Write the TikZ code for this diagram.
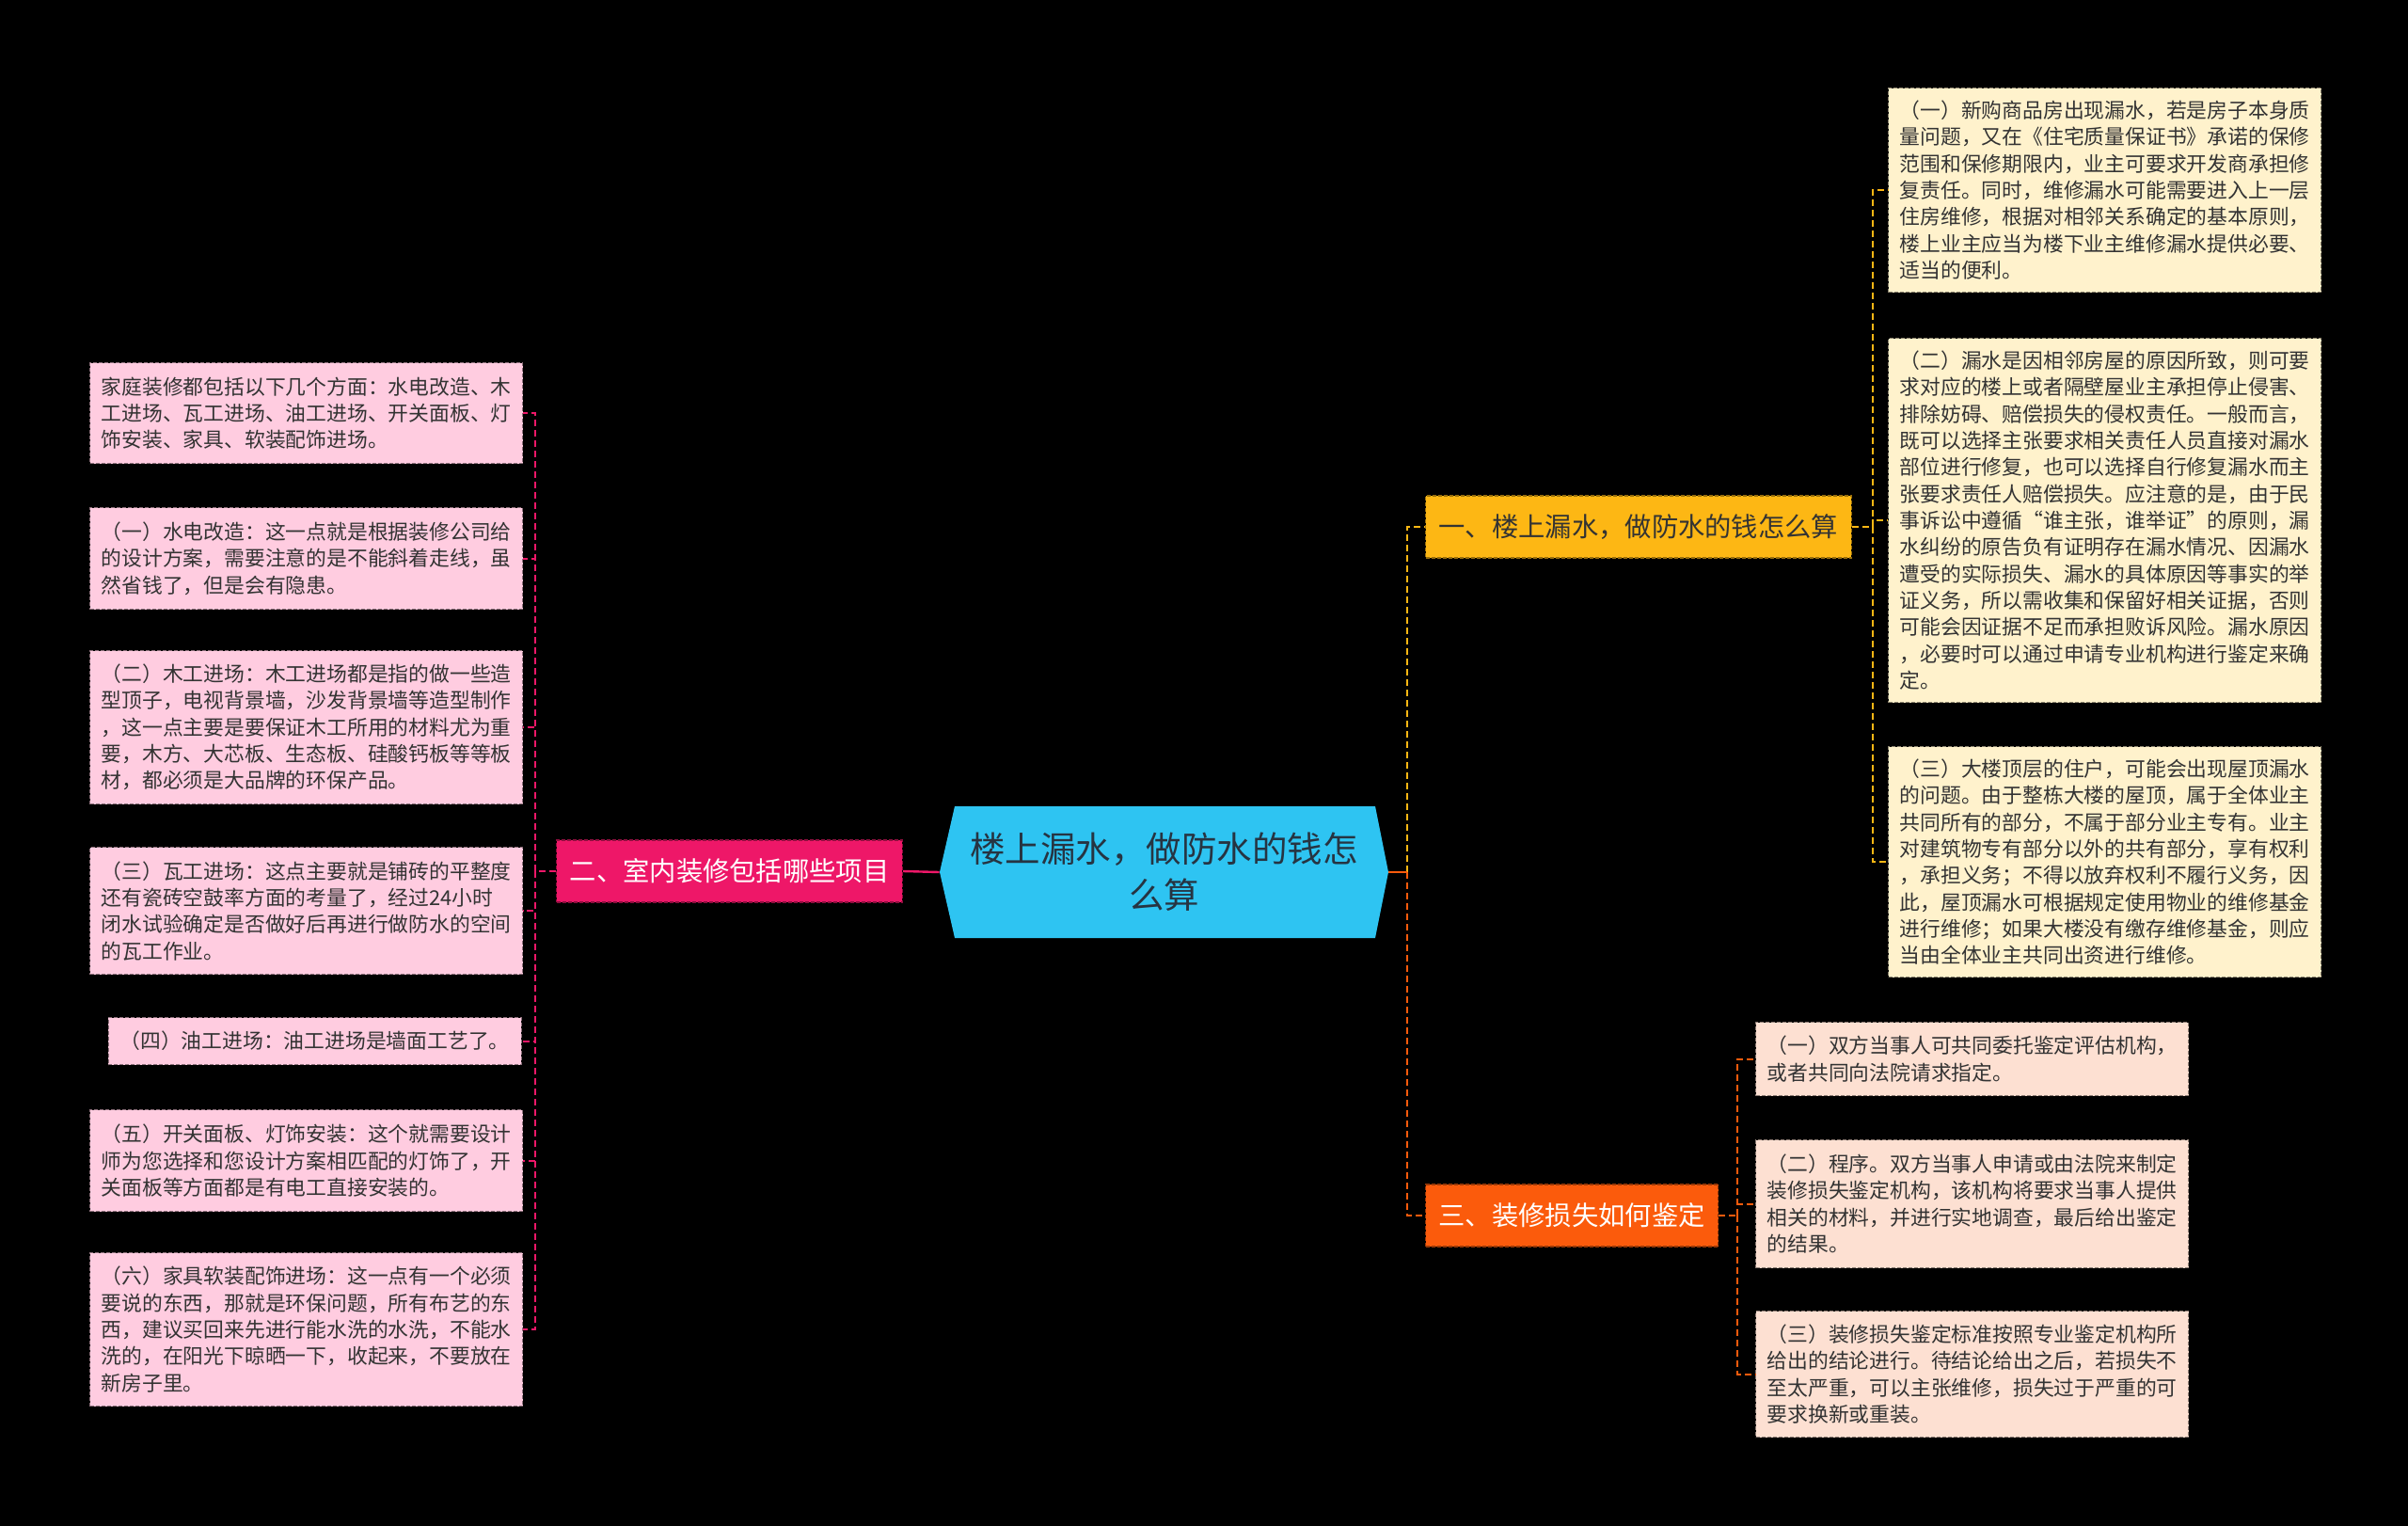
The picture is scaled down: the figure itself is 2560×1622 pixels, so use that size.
\documentclass[tikz,border=0pt]{standalone}
\usepackage{fontspec}
\setmainfont{Noto Sans CJK SC}
\usepackage{tikz}

\definecolor{rootblue}{HTML}{2EC4F2}
\definecolor{roottext}{HTML}{263442}
\definecolor{housepink}{HTML}{EE1768}
\definecolor{leafpink}{HTML}{FFCCE0}
\definecolor{leakamber}{HTML}{FDB714}
\definecolor{leafcream}{HTML}{FFF2CC}
\definecolor{lossorange}{HTML}{FB5B0C}
\definecolor{leafpeach}{HTML}{FDE0D2}
\definecolor{inktext}{HTML}{333333}

\tikzset{
  leafbox/.style={fill=#1, draw=#1!55!black, line width=0.6pt, dash pattern=on 2pt off 1pt,
    anchor=north west, inner xsep=6pt, inner ysep=2pt, text width=218pt, align=left,
    text=inktext, font=\fontsize{10.9}{14.17}\selectfont},
  branchbox/.style={fill=#1, draw=#1!60!black, line width=0.6pt, dash pattern=on 2pt off 1pt,
    minimum height=33pt, inner xsep=7pt, font=\fontsize{14.15}{17}\selectfont},
  link/.style={draw=#1, line width=1pt, dash pattern=on 3.5pt off 2pt},
  stub/.style={draw=#1, line width=1.2pt}
}

\begin{document}
\begin{tikzpicture}[x=0.5pt,y=-0.5pt]
    \useasboundingbox (0,0) rectangle (2560,1622);
    \fill[black] (0,0) rectangle (2560,1622);

    % root
    \fill[rootblue] (999,927) -- (1015,857) -- (1462,857) -- (1476,927) -- (1462,997) -- (1015,997) -- cycle;
    \node[minimum width=238.5pt,minimum height=70pt,align=center,text=roottext,font=\fontsize{18.75}{24.5}\selectfont] (root) at (1237.5,927) {楼上漏水，做防水的钱怎\\么算};

    % branches
    \node[branchbox=housepink,text=white,anchor=east] (b2) at (960,926) {二、室内装修包括哪些项目};
    \node[branchbox=leakamber,text=inktext,anchor=west] (b1) at (1515,560) {一、楼上漏水，做防水的钱怎么算};
    \node[branchbox=lossorange,text=white,anchor=west] (b3) at (1515,1292) {三、装修损失如何鉴定};

    % left leaves
    \node[leafbox=leafpink,minimum height=53.5pt] (l1) at (95,385) {家庭装修都包括以下几个方面：水电改造、木\\工进场、瓦工进场、油工进场、开关面板、灯\\饰安装、家具、软装配饰进场。};
    \node[leafbox=leafpink,minimum height=54pt] (l2) at (95,539) {（一）水电改造：这一点就是根据装修公司给\\的设计方案，需要注意的是不能斜着走线，虽\\然省钱了，但是会有隐患。};
    \node[leafbox=leafpink,minimum height=81.5pt] (l3) at (95,691) {（二）木工进场：木工进场都是指的做一些造\\型顶子，电视背景墙，沙发背景墙等造型制作\\，这一点主要是要保证木工所用的材料尤为重\\要，木方、大芯板、生态板、硅酸钙板等等板\\材，都必须是大品牌的环保产品。};
    \node[leafbox=leafpink,minimum height=67.5pt] (l4) at (95,900) {（三）瓦工进场：这点主要就是铺砖的平整度\\还有瓷砖空鼓率方面的考量了，经过24小时\\闭水试验确定是否做好后再进行做防水的空间\\的瓦工作业。};
    \node[leafbox=leafpink,minimum height=25pt,text width=207.5pt,anchor=north east] (l5) at (555,1081) {（四）油工进场：油工进场是墙面工艺了。};
    \node[leafbox=leafpink,minimum height=54pt] (l6) at (95,1179) {（五）开关面板、灯饰安装：这个就需要设计\\师为您选择和您设计方案相匹配的灯饰了，开\\关面板等方面都是有电工直接安装的。};
    \node[leafbox=leafpink,minimum height=81.5pt] (l7) at (95,1331) {（六）家具软装配饰进场：这一点有一个必须\\要说的东西，那就是环保问题，所有布艺的东\\西，建议买回来先进行能水洗的水洗，不能水\\洗的，在阳光下晾晒一下，收起来，不要放在\\新房子里。};

    % right leaves, branch one
    \node[leafbox=leafcream,minimum height=108.5pt] (a1) at (2007,93) {（一）新购商品房出现漏水，若是房子本身质\\量问题，又在《住宅质量保证书》承诺的保修\\范围和保修期限内，业主可要求开发商承担修\\复责任。同时，维修漏水可能需要进入上一层\\住房维修，根据对相邻关系确定的基本原则，\\楼上业主应当为楼下业主维修漏水提供必要、\\适当的便利。};
    \node[leafbox=leafcream,minimum height=193.5pt] (a2) at (2007,359) {（二）漏水是因相邻房屋的原因所致，则可要\\求对应的楼上或者隔壁屋业主承担停止侵害、\\排除妨碍、赔偿损失的侵权责任。一般而言，\\既可以选择主张要求相关责任人员直接对漏水\\部位进行修复，也可以选择自行修复漏水而主\\张要求责任人赔偿损失。应注意的是，由于民\\事诉讼中遵循“谁主张，谁举证”的原则，漏\\水纠纷的原告负有证明存在漏水情况、因漏水\\遭受的实际损失、漏水的具体原因等事实的举\\证义务，所以需收集和保留好相关证据，否则\\可能会因证据不足而承担败诉风险。漏水原因\\，必要时可以通过申请专业机构进行鉴定来确\\定。};
    \node[leafbox=leafcream,minimum height=122.5pt] (a3) at (2007,793) {（三）大楼顶层的住户，可能会出现屋顶漏水\\的问题。由于整栋大楼的屋顶，属于全体业主\\共同所有的部分，不属于部分业主专有。业主\\对建筑物专有部分以外的共有部分，享有权利\\，承担义务；不得以放弃权利不履行义务，因\\此，屋顶漏水可根据规定使用物业的维修基金\\进行维修；如果大楼没有缴存维修基金，则应\\当由全体业主共同出资进行维修。};

    % right leaves, branch three
    \node[leafbox=leafpeach,minimum height=39pt] (c1) at (1866,1086) {（一）双方当事人可共同委托鉴定评估机构，\\或者共同向法院请求指定。};
    \node[leafbox=leafpeach,minimum height=68pt] (c2) at (1866,1211) {（二）程序。双方当事人申请或由法院来制定\\装修损失鉴定机构，该机构将要求当事人提供\\相关的材料，并进行实地调查，最后给出鉴定\\的结果。};
    \node[leafbox=leafpeach,minimum height=67pt] (c3) at (1866,1393) {（三）装修损失鉴定标准按照专业鉴定机构所\\给出的结论进行。待结论给出之后，若损失不\\至太严重，可以主张维修，损失过于严重的可\\要求换新或重装。};

    % root to branches
    \coordinate (rj) at ([xshift=10pt]root.east);
    \draw[link=leakamber] (rj) |- (b1.west);
    \draw[link=lossorange] (rj) |- (b3.west);
    \draw[stub=lossorange] (root.east) -- (rj);
    \draw[stub=housepink] (root.west) -- (b2.east);

    % branches to leaves
    \coordinate (lj) at ([xshift=-11pt]b2.west);
    \draw[link=housepink] (b2.west) -- (lj);
    \foreach \n in {l1,l2,l3,l4,l5,l6,l7}
        \draw[link=housepink] (lj) |- (\n.east);

    \coordinate (aj) at ([xshift=11pt]b1.east);
    \draw[link=leakamber] (b1.east) -- (aj);
    \foreach \n in {a1,a2,a3}
        \draw[link=leakamber] (aj) |- (\n.west);

    \coordinate (cj) at ([xshift=10pt]b3.east);
    \draw[link=lossorange] (b3.east) -- (cj);
    \foreach \n in {c1,c2,c3}
        \draw[link=lossorange] (cj) |- (\n.west);
\end{tikzpicture}
\end{document}
